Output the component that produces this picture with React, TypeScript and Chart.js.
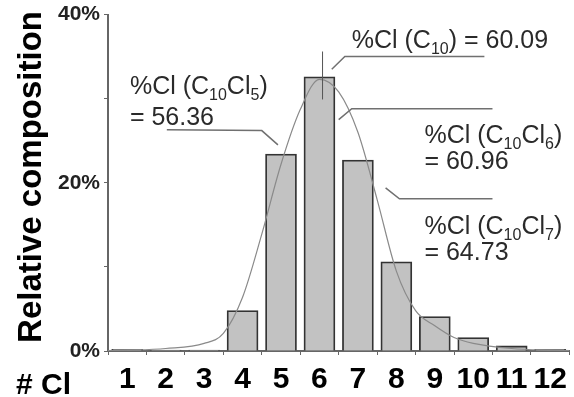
import React, { useEffect, useRef } from 'react';
import { Chart, registerables } from 'chart.js';

Chart.register(...registerables);

// ---- data ----
const categories = ['1', '2', '3', '4', '5', '6', '7', '8', '9', '10', '11', '12'];
const composition = [0.2, 0.1, 0.1, 4.8, 23.4, 32.6, 22.7, 10.6, 4.1, 1.6, 0.6, 0.2];
const curveX = [0.5, 1, 2, 3, 3.5, 4, 4.5, 5, 5.5, 6, 6.5, 7, 7.5, 8, 8.5, 9, 9.5, 10, 11, 12, 12.5];
const curveY = [0.05, 0.1, 0.3, 0.9, 2.1, 6.4, 13.9, 22.2, 28.7, 32.3, 30.8, 26, 18, 9.5, 4.8, 3, 1.6, 0.9, 0.3, 0.1, 0.05];
const yTickValues = [0, 20, 40];
const xTitle = '# Cl';
const yTitle = 'Relative composition';

const FONT = "'Liberation Sans', Arial, sans-serif";

type Seg = [string, boolean];
type Note = { lines: Seg[][]; x: number; y: number[] };

const notes: Note[] = [
  { lines: [[['%Cl (C', false], ['10', true], [') = 60.09', false]]], x: 6.84, y: [36.0] },
  {
    lines: [
      [['%Cl (C', false], ['10', true], ['Cl', false], ['5', true], [')', false]],
      [['= 56.36', false]],
    ],
    x: 1.07,
    y: [30.6, 26.9],
  },
  {
    lines: [
      [['%Cl (C', false], ['10', true], ['Cl', false], ['6', true], [')', false]],
      [['= 60.96', false]],
    ],
    x: 8.73,
    y: [24.7, 21.6],
  },
  {
    lines: [
      [['%Cl (C', false], ['10', true], ['Cl', false], ['7', true], [')', false]],
      [['= 64.73', false]],
    ],
    x: 8.73,
    y: [13.9, 10.8],
  },
];

const leaders: number[][][] = [
  [[10.29, 35.0], [6.66, 35.0], [6.32, 33.5]],
  [[2.03, 26.3], [4.5, 26.2], [4.92, 24.5]],
  [[10.5, 28.8], [6.84, 28.8], [6.5, 27.5]],
  [[10.5, 18.1], [8.08, 18.1], [7.72, 19.4]],
];
const meanMarker = [[6.08, 35.6], [6.08, 29.9]];

const annotPlugin = {
  id: 'annot',
  afterDatasetsDraw(chart: any) {
    const ctx: CanvasRenderingContext2D = chart.ctx;
    const xs = chart.scales.x2;
    const ys = chart.scales.y;
    const px = (v: number) => xs.getPixelForValue(v);
    const py = (v: number) => ys.getPixelForValue(v);
    ctx.save();
    ctx.strokeStyle = '#707070';
    ctx.lineWidth = 1.5;
    leaders.forEach((pts) => {
      ctx.beginPath();
      pts.forEach(([x, y], i) => (i ? ctx.lineTo(px(x), py(y)) : ctx.moveTo(px(x), py(y))));
      ctx.stroke();
    });
    ctx.lineWidth = 1;
    ctx.strokeStyle = '#555';
    ctx.beginPath();
    ctx.moveTo(px(meanMarker[0][0]), py(meanMarker[0][1]));
    ctx.lineTo(px(meanMarker[1][0]), py(meanMarker[1][1]));
    ctx.stroke();

    ctx.fillStyle = '#2a2a2a';
    ctx.textBaseline = 'alphabetic';
    ctx.textAlign = 'left';
    notes.forEach((n) => {
      n.lines.forEach((line, li) => {
        let x = px(n.x);
        const y = py(n.y[li]);
        line.forEach(([t, sub]) => {
          ctx.font = sub ? `16px ${FONT}` : `25px ${FONT}`;
          ctx.fillText(t, x, sub ? y + 6 : y);
          x += ctx.measureText(t).width;
        });
      });
    });

    // axis titles
    ctx.fillStyle = '#000';
    ctx.font = `bold 30px ${FONT}`;
    ctx.fillText(xTitle, 16, chart.chartArea.bottom + 43);
    ctx.save();
    ctx.translate(41, 177);
    ctx.rotate(-Math.PI / 2);
    ctx.textAlign = 'center';
    ctx.font = `bold 33px ${FONT}`;
    ctx.fillText(yTitle, 0, 0);
    ctx.restore();
    ctx.restore();
  },
};

export default function App() {
  const ref = useRef<HTMLCanvasElement>(null);
  useEffect(() => {
    document.body.style.margin = '0';
    const chart = new Chart(ref.current as HTMLCanvasElement, {
      type: 'bar',
      data: {
        labels: categories,
        datasets: [
          {
            type: 'bar',
            data: composition,
            backgroundColor: '#c2c2c2',
            borderColor: '#333',
            borderWidth: 1.8,
            barThickness: 31,
            grouped: false,
            order: 2,
          } as any,
          {
            type: 'line',
            data: curveX.map((x, i) => ({ x, y: curveY[i] })),
            xAxisID: 'x2',
            borderColor: '#8a8a8a',
            borderWidth: 1.2,
            pointRadius: 0,
            cubicInterpolationMode: 'monotone',
            fill: false,
            order: 1,
          } as any,
        ],
      },
      options: {
        animation: false,
        responsive: false,
        devicePixelRatio: 1,
        layout: { padding: { top: 0, right: 4, left: 0, bottom: 0 } },
        plugins: { legend: { display: false }, tooltip: { enabled: false } },
        scales: {
          x: {
            type: 'category',
            offset: true,
            border: { color: '#666', width: 2 },
            grid: { display: true, drawOnChartArea: false, drawTicks: true, tickLength: 4, offset: true, color: '#666' },
            ticks: { color: '#000', font: { family: FONT, size: 30, weight: 'bold' }, padding: 7, maxRotation: 0, autoSkip: false },
            afterFit: (s: any) => { s.height = 46; },
          },
          x2: {
            type: 'linear',
            min: 0.5,
            max: 12.5,
            offset: false,
            grid: { offset: false },
            display: false,
          },
          y: {
            min: 0,
            max: 40,
            border: { color: '#666', width: 2 },
            grid: { display: true, drawOnChartArea: false, drawTicks: true, tickLength: 4, color: '#666' },
            ticks: {
              stepSize: 10,
              color: '#222',
              font: { family: FONT, size: 21, weight: 'bold', lineHeight: 1 },
              padding: 4,
              callback: (v: any) => (yTickValues.includes(Number(v)) ? `${v}%` : ''),
            },
            afterFit: (s: any) => { s.width = 108; },
          },
        },
      },
      plugins: [annotPlugin],
    } as any);
    return () => chart.destroy();
  }, []);
  return <canvas ref={ref} width={574} height={397} style={{ display: 'block' }} />;
}
